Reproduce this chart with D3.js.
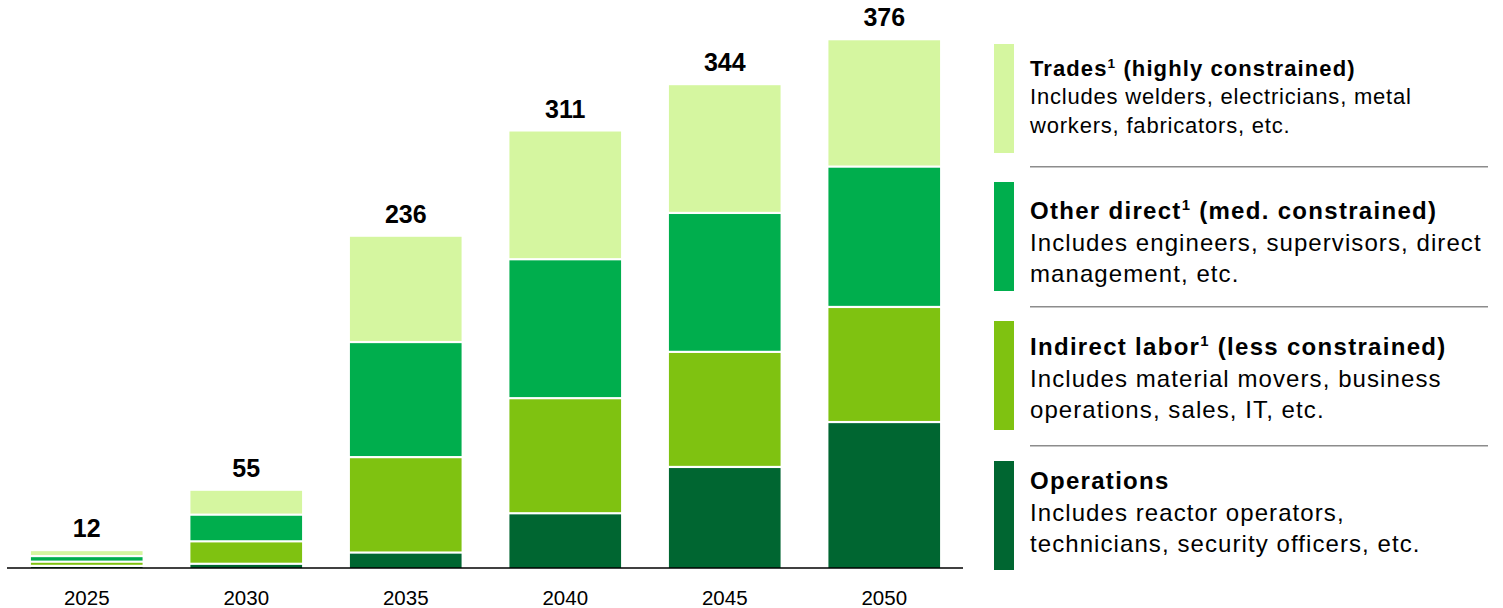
<!DOCTYPE html>
<html>
<head>
<meta charset="utf-8">
<script src="https://cdn.jsdelivr.net/npm/d3@7/dist/d3.min.js"></script>
<style>
  html, body { margin: 0; padding: 0; background: #ffffff; }
  svg { display: block; font-family: "Liberation Sans", Arial, Helvetica, sans-serif; }
</style>
</head>
<body>
<svg id="chart" width="1503" height="608"></svg>
<script>
// ---------- DATA ----------
const years = ["2025", "2030", "2035", "2040", "2045", "2050"];
const operations = [1.5, 3, 11, 39, 72, 104];
const indirectLabor = [3, 16, 68, 82, 82, 82];
const otherDirect = [4, 19, 82, 99, 99, 100];
const trades = [3.5, 17, 75, 91, 91, 90];
const totals = [12, 55, 236, 311, 344, 376];

const seriesKeys = ["operations", "indirect", "other", "trades"];
const seriesColors = ["#006631", "#7FC211", "#00AE4D", "#D5F6A0"];

const legendKeys = ["trades", "other", "indirect", "operations"];
const legendTitles = ["Trades", "Other direct", "Indirect labor", "Operations"];
const legendTitleSup = ["1", "1", "1", ""];
const legendTitleRest = [" (highly constrained)", " (med. constrained)", " (less constrained)", ""];
const legendLines = [
  ["Includes welders, electricians, metal", "workers, fabricators, etc."],
  ["Includes engineers, supervisors, direct", "management, etc."],
  ["Includes material movers, business", "operations, sales, IT, etc."],
  ["Includes reactor operators,", "technicians, security officers, etc."]
];

// ---------- BUILD ----------
const rows = years.map((yr, i) => ({
  year: yr,
  operations: operations[i],
  indirect: indirectLabor[i],
  other: otherDirect[i],
  trades: trades[i],
  total: totals[i]
}));
const colorOf = d3.scaleOrdinal().domain(seriesKeys).range(seriesColors);

const svg = d3.select("#chart");
const baseline = 568;

const x = d3.scaleBand()
  .domain(years)
  .range([7, 964])
  .paddingInner(0.3)
  .paddingOuter(0.15);

const y = d3.scaleLinear()
  .domain([0, d3.max(totals)])
  .range([baseline, 40.3]);

const stacked = d3.stack().keys(seriesKeys)(rows);
const gap = 1.1;

svg.append("g")
  .selectAll("g")
  .data(stacked)
  .join("g")
  .attr("fill", s => colorOf(s.key))
  .each(function(s, si) {
    const isTop = si === stacked.length - 1;
    const isBottom = si === 0;
    d3.select(this).selectAll("rect")
      .data(s)
      .join("rect")
      .attr("x", d => x(d.data.year))
      .attr("width", x.bandwidth())
      .attr("y", d => y(d[1]) + (isTop ? 0 : gap))
      .attr("height", d => Math.max(0, (y(d[0]) - (isBottom ? 0 : gap)) - (y(d[1]) + (isTop ? 0 : gap))));
  });

// total labels
svg.append("g")
  .selectAll("text")
  .data(rows)
  .join("text")
  .attr("x", d => x(d.year) + x.bandwidth() / 2)
  .attr("y", d => y(d.total) - 14)
  .attr("text-anchor", "middle")
  .attr("font-size", 25)
  .attr("font-weight", "bold")
  .attr("fill", "#000")
  .text(d => d.total);

// x axis
const xAxis = d3.axisBottom(x).tickSize(0).tickPadding(0);
const axisG = svg.append("g")
  .attr("transform", `translate(0,${baseline})`)
  .call(xAxis);
axisG.select(".domain").remove();
axisG.append("line")
  .attr("x1", 7).attr("x2", 963)
  .attr("y1", 0).attr("y2", 0)
  .attr("stroke", "#000").attr("stroke-width", 1.6);
axisG.selectAll(".tick text")
  .attr("dy", null)
  .attr("y", 37)
  .attr("font-size", 20.5)
  .attr("font-family", "'Liberation Sans', Arial, sans-serif")
  .attr("fill", "#000");

// ---------- LEGEND ----------
const swatchX = 994, swatchW = 20;
const textX = 1030;
const swatchTops = [44, 182, 321, 461];
const swatchH = 109;
const titleBaselines = [75.7, 219, 355, 489.3];
const fontSizes = [22, 24, 24, 24];
const letterSp = [0.8, 1.08, 1.08, 1.08];
const titleSp = [1.1, 1.3, 1.3, 1.3];
const lineSteps = [28.5, 31.5, 31.5, 31.5];
const sepYs = [166.7, 306.7, 445.7];

const legend = svg.append("g");
legendKeys.forEach((k, i) => {
  legend.append("rect")
    .attr("x", swatchX).attr("y", swatchTops[i])
    .attr("width", swatchW).attr("height", swatchH)
    .attr("fill", colorOf(k));
  const t = legend.append("text")
    .attr("x", textX).attr("y", titleBaselines[i])
    .attr("font-size", fontSizes[i])
    .attr("font-weight", "bold")
    .attr("letter-spacing", titleSp[i])
    .attr("fill", "#000");
  t.append("tspan").text(legendTitles[i]);
  if (legendTitleSup[i]) {
    t.append("tspan")
      .attr("font-size", fontSizes[i] * 0.62)
      .attr("dy", -fontSizes[i] * 0.36)
      .text(legendTitleSup[i]);
    t.append("tspan")
      .attr("dy", fontSizes[i] * 0.36)
      .text(legendTitleRest[i]);
  }
  legendLines[i].forEach((ln, j) => {
    legend.append("text")
      .attr("x", textX)
      .attr("y", titleBaselines[i] + lineSteps[i] * (j + 1))
      .attr("font-size", fontSizes[i])
      .attr("letter-spacing", letterSp[i])
      .attr("fill", "#000")
      .text(ln);
  });
});
sepYs.forEach(sy => {
  legend.append("line")
    .attr("x1", 1030).attr("x2", 1488)
    .attr("y1", sy).attr("y2", sy)
    .attr("stroke", "#8c8c8c").attr("stroke-width", 1.5);
});
</script>
</body>
</html>
